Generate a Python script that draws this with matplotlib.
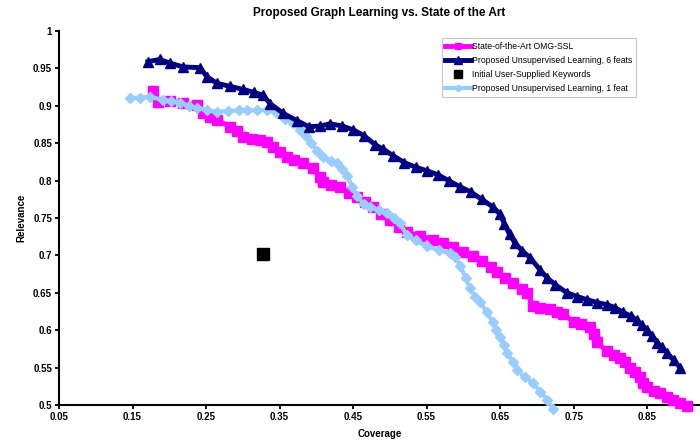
import numpy as np
import matplotlib
matplotlib.use('Agg')
import matplotlib.pyplot as plt

plt.rcParams['font.family'] = ['Liberation Sans', 'DejaVu Sans']

# 6 feats (navy triangles)
feat6_x = [0.171, 0.187, 0.201, 0.219, 0.242, 0.251, 0.265, 0.283, 0.300, 0.315,
           0.328, 0.337, 0.355, 0.374, 0.390, 0.405, 0.419, 0.435, 0.450, 0.465,
           0.480, 0.491, 0.505, 0.520, 0.535, 0.551, 0.565, 0.580, 0.595, 0.610,
           0.625, 0.640, 0.650, 0.656, 0.663, 0.670, 0.680, 0.691, 0.704, 0.714,
           0.725, 0.741, 0.755, 0.768, 0.782, 0.796, 0.807, 0.817, 0.828, 0.836,
           0.843, 0.850, 0.857, 0.864, 0.870, 0.877, 0.886, 0.895]
feat6_y = [0.959, 0.962, 0.957, 0.952, 0.951, 0.939, 0.930, 0.926, 0.922, 0.918,
           0.914, 0.903, 0.890, 0.880, 0.872, 0.873, 0.876, 0.873, 0.868, 0.860,
           0.848, 0.842, 0.833, 0.824, 0.818, 0.813, 0.808, 0.800, 0.792, 0.785,
           0.775, 0.765, 0.755, 0.742, 0.728, 0.717, 0.706, 0.697, 0.681, 0.670,
           0.661, 0.650, 0.645, 0.641, 0.637, 0.634, 0.630, 0.624, 0.619, 0.613,
           0.607, 0.600, 0.592, 0.583, 0.577, 0.570, 0.560, 0.550]

# OMG-SSL (magenta squares)
ssl_x = [0.178, 0.185, 0.201, 0.219, 0.238, 0.246, 0.255, 0.265, 0.283, 0.292,
         0.300, 0.312, 0.323, 0.333, 0.341, 0.350, 0.360, 0.370, 0.382, 0.395,
         0.405, 0.409, 0.420, 0.432, 0.445, 0.455, 0.466, 0.477, 0.488, 0.500,
         0.512, 0.523, 0.541, 0.559, 0.572, 0.586, 0.600, 0.613, 0.625, 0.637,
         0.646, 0.657, 0.668, 0.680, 0.687, 0.695, 0.704, 0.718, 0.728, 0.736,
         0.750, 0.760, 0.772, 0.778, 0.782, 0.795, 0.805, 0.813, 0.820, 0.827,
         0.834, 0.840, 0.845, 0.850, 0.860, 0.868, 0.877, 0.885, 0.895, 0.904]
ssl_y = [0.920, 0.905, 0.906, 0.904, 0.901, 0.890, 0.885, 0.881, 0.872, 0.866,
         0.858, 0.856, 0.854, 0.851, 0.845, 0.838, 0.832, 0.827, 0.823, 0.817,
         0.805, 0.798, 0.794, 0.791, 0.784, 0.778, 0.772, 0.765, 0.756, 0.747,
         0.738, 0.731, 0.726, 0.721, 0.717, 0.711, 0.705, 0.699, 0.692, 0.684,
         0.678, 0.670, 0.663, 0.655, 0.650, 0.632, 0.630, 0.629, 0.625, 0.622,
         0.611, 0.608, 0.604, 0.595, 0.584, 0.572, 0.567, 0.563, 0.557, 0.550,
         0.544, 0.538, 0.530, 0.524, 0.519, 0.516, 0.511, 0.507, 0.502, 0.498]

# 1 feat (light blue diamonds)
feat1_x = [0.147, 0.160, 0.174, 0.191, 0.203, 0.215, 0.227, 0.238, 0.252, 0.265,
           0.280, 0.295, 0.306, 0.320, 0.333, 0.347, 0.358, 0.368, 0.378, 0.386,
           0.393, 0.401, 0.409, 0.420, 0.428, 0.435, 0.442, 0.449, 0.455, 0.465,
           0.473, 0.485, 0.496, 0.506, 0.514, 0.523, 0.535, 0.551, 0.567, 0.582,
           0.589, 0.596, 0.603, 0.609, 0.616, 0.623, 0.632, 0.640, 0.645, 0.650,
           0.655, 0.660, 0.667, 0.673, 0.684, 0.695, 0.705, 0.714, 0.722]
feat1_y = [0.910, 0.911, 0.912, 0.908, 0.906, 0.904, 0.900, 0.897, 0.894, 0.892,
           0.893, 0.894, 0.894, 0.894, 0.894, 0.890, 0.883, 0.877, 0.868, 0.860,
           0.850, 0.840, 0.832, 0.826, 0.824, 0.815, 0.806, 0.792, 0.779, 0.769,
           0.765, 0.761, 0.757, 0.750, 0.743, 0.727, 0.720, 0.712, 0.707, 0.703,
           0.698, 0.686, 0.670, 0.656, 0.645, 0.638, 0.624, 0.611, 0.600, 0.591,
           0.580, 0.570, 0.558, 0.547, 0.537, 0.529, 0.518, 0.507, 0.495]

# initial keywords
init_x = [0.328]
init_y = [0.702]

x_ticks = np.arange(0.05, 0.86, 0.1)
y_ticks = np.arange(0.5, 1.01, 0.05)

fig = plt.figure(figsize=(7, 4.45), dpi=100)
ax = fig.add_axes([0.0843, 0.0899, 0.9157, 0.8404])

ax.plot(ssl_x, ssl_y, color='#FF00FF', lw=3.5, marker='s', ms=7, mec='#FF00FF',
        clip_on=False, label='State-of-the-Art OMG-SSL', zorder=3)
ax.plot(feat6_x, feat6_y, color='#000080', lw=3.5, marker='^', ms=7.5, mec='#000080',
        clip_on=False, label='Proposed Unsupervised Learning, 6 feats', zorder=4)
ax.plot(init_x, init_y, color='black', ls='none', marker='s', ms=8,
        label='Initial User-Supplied Keywords', zorder=5)
ax.plot(feat1_x, feat1_y, color='#99CCFF', lw=3, marker='D', ms=5, mec='#99CCFF',
        clip_on=False, label='Proposed Unsupervised Learning, 1 feat', zorder=3)

ax.set_xlim(0.05, 0.922)
ax.set_ylim(0.5, 1.0)
ax.set_xticks(x_ticks)
ax.set_xticklabels(['{:.2f}'.format(v) for v in x_ticks])
ax.set_yticks(y_ticks)
ax.set_yticklabels(['{:g}'.format(round(v, 2)) for v in y_ticks])
ax.tick_params(axis='both', direction='out', length=3, width=1.3, labelsize=7, pad=2)
for lab in ax.get_xticklabels() + ax.get_yticklabels():
    lab.set_fontweight('bold')

for s in ['top', 'right']:
    ax.spines[s].set_visible(False)
for s in ['left', 'bottom']:
    ax.spines[s].set_linewidth(1.5)

ax.set_xlabel('Coverage', fontsize=7, fontweight='bold', labelpad=5)
ax.set_ylabel('Relevance', fontsize=7, fontweight='bold', labelpad=5)
ax.set_title('Proposed Graph Learning vs. State of the Art', fontsize=8.5,
             fontweight='bold', pad=11)

leg = ax.legend(loc='upper left', bbox_to_anchor=(0.597, 0.98), fontsize=6.2,
                handlelength=3, handletextpad=0.1, labelspacing=0.6,
                borderpad=0.4, fancybox=False, framealpha=1, borderaxespad=0,
                markerscale=0.7)
leg.get_frame().set_edgecolor('#C8C8C8')
leg.get_frame().set_linewidth(0.8)

plt.savefig('out.png', dpi=100, facecolor='white')
